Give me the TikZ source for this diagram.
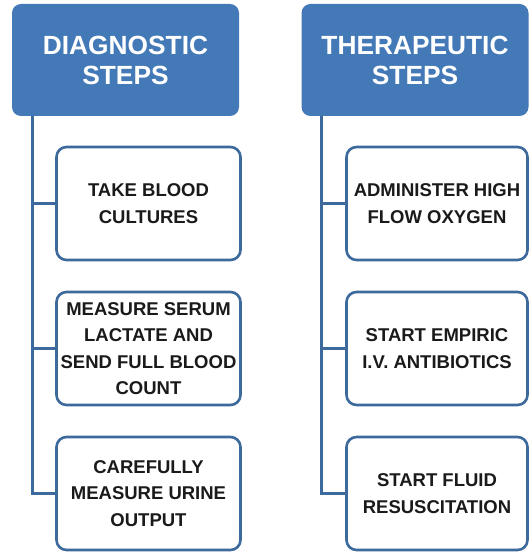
\documentclass[tikz,border=0pt]{standalone}
\usepackage{fontspec}
\setmainfont{Liberation Sans}
\definecolor{hdrblue}{HTML}{4479B8}
\definecolor{edgeblue}{HTML}{3C6A9C}
\definecolor{txtdark}{HTML}{1A1A1A}
\begin{document}
\begin{tikzpicture}[x=1pt,y=-1pt,
  header/.style={fill=hdrblue, draw=none, rounded corners=9pt,
    minimum width=227pt, minimum height=112pt, inner sep=0pt,
    text=white, align=center,
    font=\fontsize{26.3}{30}\selectfont\bfseries},
  stepbox/.style={draw=edgeblue, line width=2.6pt, fill=white, rounded corners=10pt,
    minimum height=113pt, inner sep=0pt, text=txtdark, align=center,
    font=\fontsize{18.5}{26.5}\selectfont\bfseries},
  link/.style={draw=edgeblue, line width=2.8pt}]
\useasboundingbox (0,0) rectangle (530,553);

% column headers
\node[header] (hd) at (125.5,60) {DIAGNOSTIC\\STEPS};
\node[header] (ht) at (415,60) {THERAPEUTIC\\STEPS};

% diagnostic steps
\node[stepbox, minimum width=184pt] (d1) at (148.5,203.5) {TAKE BLOOD\\CULTURES};
\node[stepbox, minimum width=184pt] (d2) at (148.5,348.5) {MEASURE SERUM\\LACTATE AND\\SEND FULL BLOOD\\COUNT};
\node[stepbox, minimum width=184pt] (d3) at (148.5,493.5) {CAREFULLY\\MEASURE URINE\\OUTPUT};

% therapeutic steps
\node[stepbox, minimum width=181pt] (t1) at (437,203.5) {ADMINISTER HIGH\\FLOW OXYGEN};
\node[stepbox, minimum width=181pt] (t2) at (437,348.5) {START EMPIRIC\\I.V. ANTIBIOTICS};
\node[stepbox, minimum width=181pt] (t3) at (437,493.5) {START FLUID\\RESUSCITATION};

% tree connectors
\coordinate (dl) at ([xshift=21pt]hd.south west);
\coordinate (tl) at ([xshift=20pt]ht.south west);
\draw[link] (dl) |- (d3.west);
\draw[link] (dl |- d1.west) -- (d1.west);
\draw[link] (dl |- d2.west) -- (d2.west);
\draw[link] (tl) |- (t3.west);
\draw[link] (tl |- t1.west) -- (t1.west);
\draw[link] (tl |- t2.west) -- (t2.west);
\end{tikzpicture}
\end{document}
